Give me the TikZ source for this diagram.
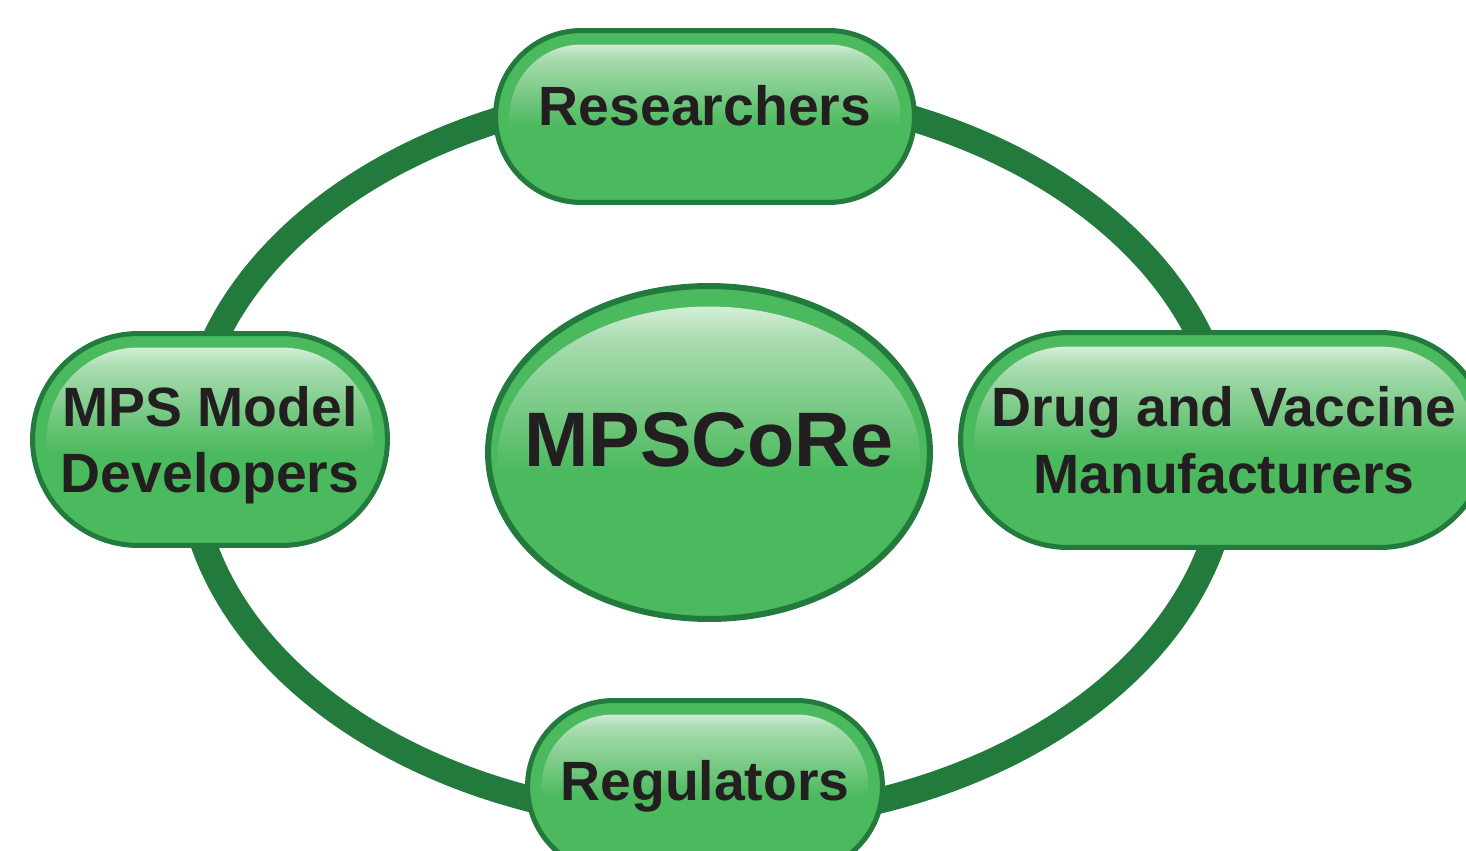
\documentclass[tikz,border=0pt]{standalone}
\usepackage{fontspec}
\setmainfont{Liberation Sans}
\usetikzlibrary{shapes.geometric, calc}

\definecolor{ringgreen}{HTML}{237A3D}
\definecolor{nodegreen}{HTML}{4BB95D}
\definecolor{glossmid}{HTML}{A9DCB0}
\definecolor{glosstop}{HTML}{F0F9F1}
\definecolor{labelink}{HTML}{231F20}

% white sheen on the upper half of each button
\pgfdeclareverticalshading{gloss}{100bp}{color(0bp)=(nodegreen); color(47bp)=(nodegreen); color(67bp)=(glossmid); color(75bp)=(glosstop); color(100bp)=(glosstop)}

\tikzset{
    ring/.style={
        draw=ringgreen,
        line width=0.52cm
    },
    pill/.style={
        rectangle,
        rounded corners=#1,
        draw=ringgreen,
        line width=0.1cm,
        fill=nodegreen,
        inner sep=0pt,
        align=center,
        text=labelink,
        font=\fontsize{31.5}{38}\selectfont\bfseries,
        path picture={
            \shade[shading=gloss, rounded corners=#1-0.28cm]
            ($(path picture bounding box.south west)+(0.28cm,0.28cm)$) rectangle
            ($(path picture bounding box.north east)-(0.28cm,0.28cm)$);
        }
    },
    hub/.style={
        ellipse,
        draw=ringgreen,
        line width=0.12cm,
        fill=nodegreen,
        inner sep=0pt,
        minimum width=8.84cm,
        minimum height=6.66cm,
        text=labelink,
        font=\fontsize{44}{50}\selectfont\bfseries,
        path picture={
            \shade[shading=gloss] ($(path picture bounding box.center)+(0,-0.08cm)$)
            ellipse [x radius=4.22cm, y radius=3cm];
        }
    }
}

\begin{document}
\begin{tikzpicture}[x=0.02cm, y=-0.02cm]
\useasboundingbox (0,0) rectangle (1466,851);
\clip (0,0) rectangle (1466,851);

% the loop joining the four groups
\coordinate (loopcentre) at (708,455);
\draw[ring] (loopcentre) ellipse [x radius=10.4cm, y radius=7.32cm];

\node[hub, text depth=0.52cm] (core) at (709,452.5) {\makebox[0pt]{MPSCoRe}};

\node[pill=1.72cm, minimum width=8.38cm, minimum height=3.44cm, text depth=0.44cm] (researchers) at (705,116.5) {Researchers};
\node[pill=1.72cm, minimum width=7.1cm, minimum height=3.44cm] (regulators) at (705,786.5) {Regulators};
\node[pill=2.12cm, minimum width=7.1cm, minimum height=4.24cm, text depth=0pt] (developers) at (210,439.5) {MPS Model\\Developers};
\node[pill=2.15cm, minimum width=10.54cm, minimum height=4.3cm, text depth=0pt] (manufacturers) at (1224,440) {Drug and Vaccine\\Manufacturers};
\end{tikzpicture}
\end{document}
